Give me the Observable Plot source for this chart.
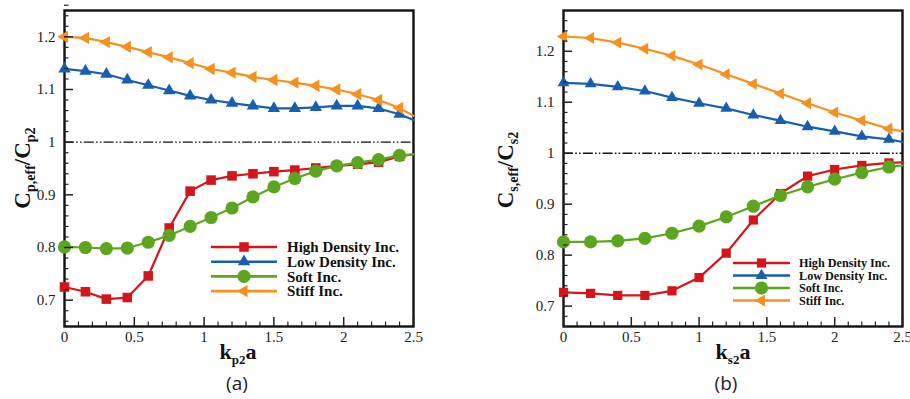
<!DOCTYPE html>
<html><head><meta charset="utf-8">
<script src="https://cdn.jsdelivr.net/npm/d3@7"></script>
<script src="https://cdn.jsdelivr.net/npm/@observablehq/plot@0.6"></script>
<style>
body{margin:0;background:#fff;}
#wrap{position:relative;width:910px;height:399px;overflow:hidden;background:#fff;}
.panel{position:absolute;top:0;}
</style></head><body><div id="wrap"></div>
<script>
// ---- data ----
const seriesNames = ["High Density Inc.", "Low Density Inc.", "Soft Inc.", "Stiff Inc."];
const seriesColors = ["#d4161c", "#175fae", "#5ca61f", "#f6901f"];
const seriesSymbols = ["square", "triangle", "circle", "triangle"];
const seriesRotate = [0, 0, 0, -90];

// panel (a): k_p2 a
const xA = [0, 0.15, 0.3, 0.45, 0.6, 0.75, 0.9, 1.05, 1.2, 1.35, 1.5, 1.65, 1.8, 1.95, 2.1, 2.25, 2.4, 2.5];
const highA  = [0.725, 0.716, 0.702, 0.705, 0.746, 0.837, 0.907, 0.928, 0.936, 0.940, 0.944, 0.947, 0.951, 0.955, 0.958, 0.962, 0.973, 0.977];
const lowA   = [1.139, 1.135, 1.129, 1.118, 1.108, 1.098, 1.088, 1.080, 1.074, 1.069, 1.064, 1.064, 1.066, 1.069, 1.069, 1.064, 1.053, 1.042];
const softA  = [0.801, 0.800, 0.798, 0.799, 0.810, 0.823, 0.840, 0.857, 0.875, 0.896, 0.915, 0.931, 0.945, 0.955, 0.961, 0.967, 0.975, 0.977];
const stiffA = [1.200, 1.198, 1.190, 1.181, 1.171, 1.161, 1.150, 1.139, 1.132, 1.124, 1.118, 1.113, 1.107, 1.100, 1.091, 1.080, 1.065, 1.050];

// panel (b): k_s2 a
const xB = [0, 0.2, 0.4, 0.6, 0.8, 1.0, 1.2, 1.4, 1.6, 1.8, 2.0, 2.2, 2.4, 2.5];
const highB  = [0.727, 0.725, 0.721, 0.721, 0.730, 0.756, 0.804, 0.869, 0.921, 0.955, 0.968, 0.976, 0.981, 0.982];
const lowB   = [1.138, 1.136, 1.130, 1.122, 1.109, 1.098, 1.088, 1.075, 1.064, 1.052, 1.043, 1.033, 1.027, 1.022];
const softB  = [0.826, 0.826, 0.828, 0.833, 0.843, 0.857, 0.875, 0.896, 0.917, 0.934, 0.949, 0.962, 0.973, 0.976];
const stiffB = [1.229, 1.226, 1.217, 1.205, 1.191, 1.174, 1.155, 1.136, 1.117, 1.098, 1.080, 1.064, 1.048, 1.043];

const xTicks = [0, 0.5, 1, 1.5, 2, 2.5];
const xMinorTicks = [0.1, 0.2, 0.3, 0.4, 0.6, 0.7, 0.8, 0.9, 1.1, 1.2, 1.3, 1.4, 1.6, 1.7, 1.8, 1.9, 2.1, 2.2, 2.3, 2.4];
const yTicks = [0.7, 0.8, 0.9, 1, 1.1, 1.2];
const referenceLine = [1];

// ---- drawing ----
const wrap = document.getElementById("wrap");
const serif = "'Liberation Serif', 'DejaVu Serif', serif";

function drawPanel(cfg) {
  const marks = [Plot.frame({stroke: "#111", strokeWidth: 2.4})];
  marks.push(Plot.ruleY(referenceLine, {stroke: "#111", strokeWidth: 1.4, strokeDasharray: "10,2.2,1.6,2.2,1.6,2.2"}));
  const order = [1, 3, 0, 2];
  for (const i of order) {
    const rows = cfg.x.map((x, j) => ({x, y: cfg.values[i][j], mark: j < cfg.x.length - 1}));
    marks.push(Plot.line(rows, {x: "x", y: "y", stroke: seriesColors[i], strokeWidth: 2.2}));
    marks.push(Plot.dot(rows.filter(d => d.mark), {
      x: "x", y: "y", symbol: seriesSymbols[i], fill: seriesColors[i],
      r: cfg.r[i], rotate: seriesRotate[i]
    }));
  }
  const yMinor = d3.range(Math.round(cfg.yDomain[0] * 50), Math.round(cfg.yDomain[1] * 50) + 1).map(k => k / 50).filter(v => Math.abs(v * 10 - Math.round(v * 10)) > 1e-6);
  marks.push(Plot.axisX(xTicks, {anchor: "bottom", tickSize: -9, tickPadding: 14, strokeWidth: 1.5, tickFormat: d => String(d), label: null}));
  marks.push(Plot.axisX(xMinorTicks, {anchor: "bottom", tickSize: -4.5, strokeWidth: 1.2, tickFormat: () => "", label: null}));
  marks.push(Plot.axisY(yTicks, {anchor: "left", tickSize: -9, tickPadding: 18, strokeWidth: 1.5, tickFormat: d => String(d), label: null}));
  marks.push(Plot.axisY(yMinor, {anchor: "left", tickSize: -4.5, strokeWidth: 1.2, tickFormat: () => "", label: null}));

  const svgNode = Plot.plot({
    width: 455, height: 399,
    marginLeft: cfg.mL, marginRight: cfg.mR, marginTop: 10, marginBottom: 73,
    x: {domain: [0, 2.5]}, y: {domain: cfg.yDomain},
    style: {fontFamily: serif, fontSize: "15px", color: "#222", background: "transparent", overflow: "visible"},
    marks
  });
  const div = document.createElement("div");
  div.className = "panel";
  div.style.left = cfg.left + "px";
  div.appendChild(svgNode);
  wrap.appendChild(div);

  const svg = d3.select(svgNode);
  // y-axis label
  const yl = svg.append("text")
    .attr("transform", `translate(${cfg.yLabelX},${cfg.yLabelY}) rotate(-90)`)
    .attr("text-anchor", "middle").attr("fill", "#111")
    .style("font", `bold 23px ${serif}`);
  yl.append("tspan").text("C");
  yl.append("tspan").attr("dy", 5).style("font-size", "14px").text(cfg.ySub1);
  yl.append("tspan").attr("dy", -5).text("/C");
  yl.append("tspan").attr("dy", 5).style("font-size", "14px").text(cfg.ySub2);
  // x-axis label
  const xl = svg.append("text")
    .attr("x", cfg.xLabelX).attr("y", 359)
    .attr("text-anchor", "middle").attr("fill", "#111")
    .style("font", `bold 22px ${serif}`);
  xl.append("tspan").text("k");
  xl.append("tspan").attr("dy", 5).style("font-size", "13px").text(cfg.xSub);
  xl.append("tspan").attr("dy", -5).text("a");
  // panel caption
  svg.append("text").attr("x", cfg.capX).attr("y", 390).attr("text-anchor", "middle")
    .attr("fill", "#222").style("font", "19px 'Open Sans', 'Noto Sans', sans-serif").text(cfg.caption);

  // legend
  const lg = svg.append("g").attr("text-anchor", "start");
  seriesNames.forEach((name, i) => {
    const y = cfg.legY + i * cfg.legDy;
    lg.append("line").attr("x1", cfg.legX1).attr("x2", cfg.legX2).attr("y1", y).attr("y2", y)
      .attr("stroke", seriesColors[i]).attr("stroke-width", 2.6);
    const sym = {square: d3.symbolSquare, triangle: d3.symbolTriangle, circle: d3.symbolCircle}[seriesSymbols[i]];
    const rr = cfg.r[i];
    lg.append("path").attr("d", d3.symbol(sym, Math.PI * rr * rr)())
      .attr("transform", `translate(${(cfg.legX1 + cfg.legX2) / 2},${y}) rotate(${seriesRotate[i]})`)
      .attr("fill", seriesColors[i]);
    lg.append("text").attr("x", cfg.legTextX).attr("y", y).attr("dy", "0.35em")
      .attr("text-anchor", "start")
      .attr("fill", "#111").style("font", `bold ${cfg.legFont}px ${serif}`).text(name);
  });
}

drawPanel({
  left: 0, mL: 64, mR: 42, x: xA, values: [highA, lowA, softA, stiffA],
  yDomain: [0.65, 1.25], r: [5.4, 4.6, 6.6, 4.6],
  yLabelX: 30, yLabelY: 168, ySub1: "p,eff", ySub2: "p2",
  xLabelX: 238, xSub: "p2", capX: 237, caption: "(a)",
  legX1: 211, legX2: 277, legTextX: 287, legY: 247, legDy: 14.7, legFont: 15
});
drawPanel({
  left: 455, mL: 108, mR: 8, x: xB, values: [highB, lowB, softB, stiffB],
  yDomain: [0.66, 1.28], r: [5.2, 4.4, 6.6, 4.4],
  yLabelX: 58, yLabelY: 170, ySub1: "s,eff", ySub2: "s2",
  xLabelX: 278, xSub: "s2", capX: 271, caption: "(b)",
  legX1: 278, legX2: 335, legTextX: 344, legY: 263, legDy: 12.5, legFont: 12.2
});
</script></body></html>
